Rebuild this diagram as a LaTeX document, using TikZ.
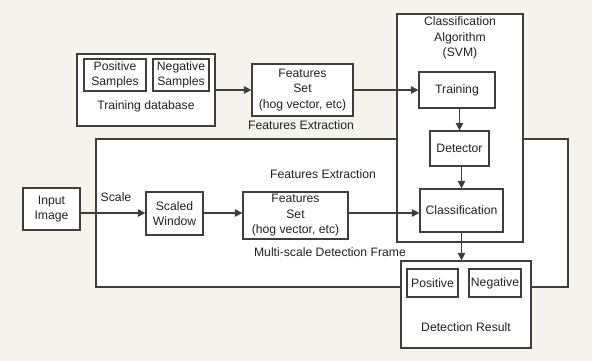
\documentclass[tikz,border=0pt]{standalone}
\usepackage{fontspec}
\setmainfont{Liberation Sans}
\usetikzlibrary{arrows.meta}
\definecolor{paper}{HTML}{F5F3EE}
\definecolor{edge}{HTML}{3E3E3E}
\definecolor{ink}{HTML}{222222}
\begin{document}
\begin{tikzpicture}[x=1pt,y=-1pt,
  every node/.style={font=\fontsize{12.2}{15.5}\selectfont, text=ink, inner sep=0pt},
  box/.style={draw=edge, line width=1.25pt, fill=white, align=center},
  lbl/.style={align=center},
  arr/.style={draw=edge, line width=1.25pt, -{Triangle[length=7.5pt,width=7.5pt]}}]
  % canvas
  \fill[paper] (0,0) rectangle (592,361);
  \useasboundingbox (0,0) rectangle (592,361);

  % multi-scale detection frame (behind the other blocks)
  \node[box, minimum width=472, minimum height=148] (frame) at (332,213) {};

  % training database
  \node[box, minimum width=138, minimum height=72] (tdb) at (146,90) {};
  \node[box, minimum width=62, minimum height=32] (pos) at (115,75) {Positive\\Samples};
  \node[box, minimum width=56, minimum height=32] (neg) at (181,75) {Negative\\Samples};
  \node[lbl] (tdblbl) at (146,106) {Training database};

  % training feature extraction
  \node[box, minimum width=101, minimum height=52] (fs1) at (302.5,90) {Features\\Set\\(hog vector, etc)};
  \node[lbl] (fe1) at (301,125) {Features Extraction};

  % classification algorithm
  \node[box, minimum width=126, minimum height=228] (algo) at (460,128) {};
  \node[lbl] (algolbl) at (460,38) {Classification\\Algorithm\\(SVM)};
  \node[box, minimum width=76, minimum height=36] (train) at (457,90) {Training};
  \node[box, minimum width=59, minimum height=35] (det) at (459.5,148.5) {Detector};
  \node[box, minimum width=83, minimum height=43] (cls) at (461.5,210.5) {Classification};

  % detection pipeline
  \node[box, minimum width=57, minimum height=42] (inp) at (51.5,209) {Input\\Image};
  \node[box, minimum width=57, minimum height=43] (sw) at (174.5,213.5) {Scaled\\Window};
  \node[box, minimum width=105, minimum height=47] (fs2) at (295.5,215.5) {Features\\Set\\(hog vector, etc)};
  \node[lbl] (scale) at (116,197) {Scale};
  \node[lbl] (fe2) at (323,174) {Features Extraction};
  \node[lbl] (msdf) at (330,252) {Multi-scale Detection Frame};

  % detection result
  \node[box, minimum width=130, minimum height=87] (res) at (466,304.5) {};
  \node[box, minimum width=51, minimum height=28] (rpos) at (432.5,283) {Positive};
  \node[box, minimum width=52, minimum height=28] (rneg) at (495,283) {Negative};
  \node[lbl] (reslbl) at (466,327) {Detection Result};

  % connectors
  \coordinate (row) at (0,213);
  \draw[arr] (tdb.east) -- (fs1.west);
  \draw[arr] (fs1.east) -- (train.west);
  \draw[arr] (train.south -| det.north) -- (det.north);
  \draw[arr] (det.south -| cls.north) -- (cls.north);
  \draw[arr] (inp.east |- row) -- (sw.west |- row);
  \draw[arr] (sw.east |- row) -- (fs2.west |- row);
  \draw[arr] (fs2.east |- row) -- (cls.west |- row);
  \draw[arr] (cls.south) -- (res.north -| cls.south);
\end{tikzpicture}
\end{document}
